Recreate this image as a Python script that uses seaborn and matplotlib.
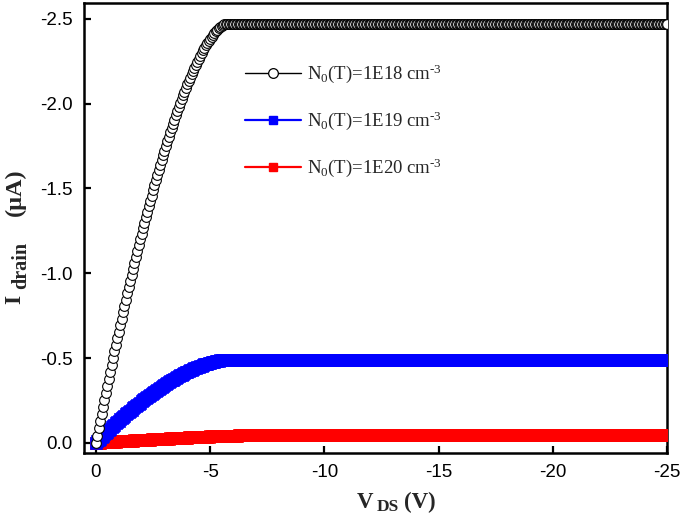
import numpy as np
import pandas as pd
import seaborn as sns
import matplotlib.pyplot as plt
from matplotlib.lines import Line2D

# drain voltage sweep, 0 to -25 V in steps of 1/16 V
vds = np.linspace(0, -25, 401)

# |I_drain| in uA on the rising part of each curve
rise_1e18 = [0.0, 0.0432, 0.0861, 0.1287, 0.1710, 0.2131, 0.2548, 0.2963, 0.3374, 0.3783,
             0.4189, 0.4591, 0.4991, 0.5388, 0.5781, 0.6172, 0.6559, 0.6944, 0.7325, 0.7703,
             0.8078, 0.8450, 0.8819, 0.9185, 0.9547, 0.9906, 1.0262, 1.0615, 1.0964, 1.1310,
             1.1653, 1.1993, 1.2329, 1.2661, 1.2990, 1.3316, 1.3639, 1.3958, 1.4273, 1.4585,
             1.4893, 1.5198, 1.5499, 1.5796, 1.6090, 1.6380, 1.6666, 1.6949, 1.7227, 1.7502,
             1.7773, 1.8040, 1.8303, 1.8562, 1.8817, 1.9068, 1.9315, 1.9558, 1.9796, 2.0030,
             2.0260, 2.0486, 2.0707, 2.0923, 2.1135, 2.1343, 2.1545, 2.1743, 2.1936, 2.2124,
             2.2308, 2.2486, 2.2658, 2.2826, 2.2988, 2.3144, 2.3295, 2.3440, 2.3579, 2.3712,
             2.3838, 2.3958, 2.4071, 2.4177, 2.4275, 2.4365, 2.4447, 2.4521, 2.4584, 2.4636,
             2.4676, 2.4699]
rise_1e19 = [0.0, 0.0086, 0.0171, 0.0255, 0.0339, 0.0423, 0.0505, 0.0588, 0.0669, 0.0750,
             0.0831, 0.0911, 0.0990, 0.1069, 0.1147, 0.1224, 0.1301, 0.1378, 0.1453, 0.1528,
             0.1603, 0.1676, 0.1750, 0.1822, 0.1894, 0.1965, 0.2036, 0.2106, 0.2175, 0.2244,
             0.2312, 0.2379, 0.2446, 0.2512, 0.2577, 0.2642, 0.2706, 0.2769, 0.2832, 0.2893,
             0.2954, 0.3015, 0.3075, 0.3134, 0.3192, 0.3250, 0.3306, 0.3362, 0.3418, 0.3472,
             0.3526, 0.3579, 0.3631, 0.3682, 0.3733, 0.3783, 0.3832, 0.3880, 0.3927, 0.3974,
             0.4019, 0.4064, 0.4108, 0.4151, 0.4193, 0.4234, 0.4274, 0.4313, 0.4352, 0.4389,
             0.4425, 0.4461, 0.4495, 0.4528, 0.4560, 0.4591, 0.4621, 0.4650, 0.4678, 0.4704,
             0.4729, 0.4753, 0.4775, 0.4796, 0.4816, 0.4834, 0.4850, 0.4865, 0.4877, 0.4887,
             0.4895, 0.4900]
rise_1e20 = [0.0, 0.0005, 0.0011, 0.0016, 0.0022, 0.0027, 0.0032, 0.0038, 0.0043,
             0.0048, 0.0054, 0.0059, 0.0065, 0.0070, 0.0075, 0.0081, 0.0086,
             0.0091, 0.0096, 0.0101, 0.0106, 0.0112, 0.0117, 0.0122, 0.0127,
             0.0132, 0.0137, 0.0142, 0.0147, 0.0152, 0.0157, 0.0162, 0.0167,
             0.0172, 0.0177, 0.0182, 0.0186, 0.0191, 0.0196, 0.0201, 0.0206,
             0.0211, 0.0215, 0.0220, 0.0224, 0.0229, 0.0234, 0.0238, 0.0243,
             0.0247, 0.0252, 0.0256, 0.0261, 0.0265, 0.0270, 0.0274, 0.0279,
             0.0283, 0.0288, 0.0292, 0.0296, 0.0300, 0.0305, 0.0309, 0.0313,
             0.0317, 0.0321, 0.0325, 0.0329, 0.0333, 0.0337, 0.0341, 0.0345,
             0.0349, 0.0353, 0.0356, 0.0360, 0.0364, 0.0368, 0.0371, 0.0375,
             0.0378, 0.0382, 0.0385, 0.0388, 0.0391, 0.0395, 0.0398, 0.0401,
             0.0404, 0.0407, 0.0410, 0.0413, 0.0415, 0.0418, 0.0421, 0.0424,
             0.0426, 0.0429, 0.0431, 0.0434, 0.0436, 0.0438, 0.0439]
# saturation currents (uA)
sat_1e18, sat_1e19, sat_1e20 = 2.47, 0.49, 0.044

labels = [r"N$_0$(T)=1E18 cm$^{\text{-3}}$", r"N$_0$(T)=1E19 cm$^{\text{-3}}$",
          r"N$_0$(T)=1E20 cm$^{\text{-3}}$"]

n = len(vds)
i_1e18 = -np.array(rise_1e18 + [sat_1e18] * (n - len(rise_1e18)))
i_1e19 = -np.array(rise_1e19 + [sat_1e19] * (n - len(rise_1e19)))
i_1e20 = -np.array(rise_1e20 + [sat_1e20] * (n - len(rise_1e20)))

df = pd.DataFrame({"Vds": vds, "I18": i_1e18, "I19": i_1e19, "I20": i_1e20})

sns.set_style("ticks")
plt.rcParams["font.family"] = ["Liberation Sans", "DejaVu Sans"]
plt.rcParams["axes.unicode_minus"] = False
plt.rcParams["mathtext.fontset"] = "custom"
plt.rcParams["mathtext.rm"] = "Liberation Serif"
plt.rcParams["mathtext.it"] = "Liberation Serif:italic"
plt.rcParams["mathtext.bf"] = "Liberation Serif:bold"

fig = plt.figure(figsize=(6.85, 5.23), dpi=100)
ax = fig.add_axes([0.1226, 0.1338, 0.8511, 0.8605])

sns.lineplot(data=df, x="Vds", y="I20", color="red", marker="s", markersize=8.5,
             markeredgecolor="red", markeredgewidth=0.5, linewidth=1.5,
             estimator=None, sort=False, ax=ax, zorder=3)
sns.lineplot(data=df, x="Vds", y="I19", color="blue", marker="s", markersize=8.5,
             markeredgecolor="blue", markeredgewidth=0.5, linewidth=1.5,
             estimator=None, sort=False, ax=ax, zorder=4)
sns.lineplot(data=df, x="Vds", y="I18", color="black", marker="o", markersize=7,
             markerfacecolor="white", markeredgecolor="black", markeredgewidth=0.8,
             linewidth=1, estimator=None, sort=False, ax=ax, zorder=5)

ax.set_xlim(0.52, -25.0)
ax.set_ylim(0.06, -2.594)
ax.set_xticks([0, -5, -10, -15, -20, -25])
ax.set_xticklabels(["0", "-5", "-10", "-15", "-20", "-25"])
ax.set_yticks([0, -0.5, -1.0, -1.5, -2.0, -2.5])
ax.set_yticklabels(["0.0", "-0.5", "-1.0", "-1.5", "-2.0", "-2.5"])
ax.set_xlabel("")
ax.set_ylabel("")

for sp in ax.spines.values():
    sp.set_visible(True)
    sp.set_linewidth(1.8)
    sp.set_color("black")
ax.tick_params(axis="both", direction="in", length=5, width=1.6, labelsize=13.5,
               pad=8, colors="black", top=False, right=False)

# axis titles, built from pieces so the subscripts stay large
W, H = 685, 523
serif_bold = dict(fontfamily="Liberation Serif", fontweight="bold", ha="center", va="center")
fig.text(15 / W, 1 - 299 / H, "I", rotation=90, fontsize=17, **serif_bold)
fig.text(21 / W, 1 - 265 / H, "drain", rotation=90, fontsize=14.5, **serif_bold)
fig.text(15 / W, 1 - 192 / H, "(\u03bcA)", rotation=90, fontsize=17.5, **serif_bold)
fig.text(365 / W, 1 - 502 / H, "V", fontsize=16.5, **serif_bold)
fig.text(388 / W, 1 - 507 / H, "DS", fontsize=12.5, **serif_bold)
fig.text(420 / W, 1 - 502 / H, "(V)", fontsize=16.5, **serif_bold)

handles = [
    Line2D([], [], color="black", marker="o", markersize=7, markerfacecolor="white",
           markeredgecolor="black", markeredgewidth=0.9, linewidth=1),
    Line2D([], [], color="blue", marker="s", markersize=6, linewidth=1.6),
    Line2D([], [], color="red", marker="s", markersize=6, linewidth=1.6),
]
ax.legend(handles, labels, loc="upper left", bbox_to_anchor=(0.276, 0.867),
          frameon=False, borderpad=0, borderaxespad=0, handlelength=3.0,
          handletextpad=0.3, labelspacing=1.3,
          prop={"family": "Liberation Serif", "size": 13.5})

fig.savefig("out.png", dpi=100)
